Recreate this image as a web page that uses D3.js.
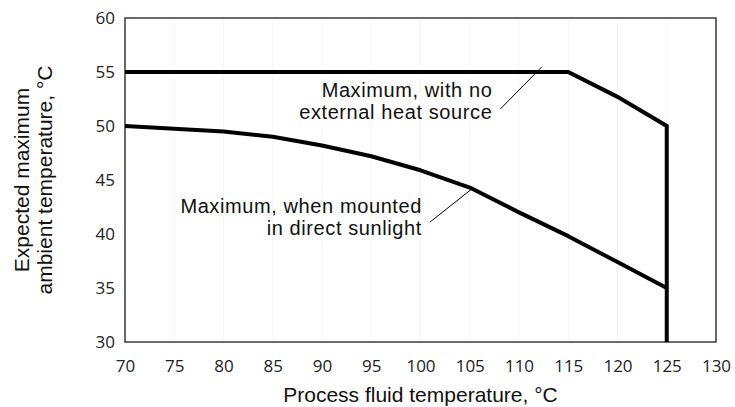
<!DOCTYPE html>
<html>
<head>
<meta charset="utf-8">
<script src="https://cdn.jsdelivr.net/npm/d3@7"></script>
<style>
  body { margin: 0; background: #fff; }
  .tick text { font-family: "Open Sans", sans-serif; font-size: 17px; fill: #222; }
  .label { font-family: "Liberation Sans", Arial, sans-serif; font-size: 21px; fill: #111; }
  .note { font-family: "Liberation Sans", Arial, sans-serif; font-size: 20px; letter-spacing: 0.6px; fill: #111; }
</style>
</head>
<body>
<div id="chart"></div>
<script>
// x positions (process fluid temperature, °C)
const xTicks = [70, 75, 80, 85, 90, 95, 100, 105, 110, 115, 120, 125, 130];
const yTicks = [30, 35, 40, 45, 50, 55, 60];

// maximum with no external heat source
const noHeatX = [70, 115, 120, 125, 125];
const noHeatY = [55, 55, 52.7, 50, 30];

// maximum when mounted in direct sunlight
const sunX = [70, 80, 85, 90, 95, 100, 105, 110, 115, 120, 125];
const sunY = [50, 49.5, 49, 48.2, 47.2, 45.9, 44.3, 42, 39.8, 37.4, 35];

function drawChart(id) {
  const W = 735, H = 407;
  const margin = { top: 18, right: 19, bottom: 65, left: 125 };
  const w = W - margin.left - margin.right;
  const h = H - margin.top - margin.bottom;

  const svg = d3.select(`#${id}`).append("svg")
    .attr("width", W).attr("height", H);

  const g = svg.append("g")
    .attr("transform", `translate(${margin.left},${margin.top})`);

  const x = d3.scaleLinear().domain([70, 130]).range([0, w]);
  const y = d3.scaleLinear().domain([30, 60]).range([h, 0]);

  // very faint grid
  g.append("g").selectAll("line").data(xTicks).join("line")
    .attr("x1", d => x(d)).attr("x2", d => x(d))
    .attr("y1", 0).attr("y2", h)
    .attr("stroke", "#f6f6f6").attr("stroke-width", 1);

  // axes (labels only, frame drawn separately)
  const xAxis = g.append("g")
    .attr("transform", `translate(0,${h})`)
    .call(d3.axisBottom(x).tickValues(xTicks).tickSize(0).tickPadding(18));
  xAxis.select(".domain").remove();

  const yAxis = g.append("g")
    .call(d3.axisLeft(y).tickValues(yTicks).tickSize(0).tickPadding(10));
  yAxis.select(".domain").remove();

  // frame
  g.append("rect")
    .attr("x", 0).attr("y", 0).attr("width", w).attr("height", h)
    .attr("fill", "none").attr("stroke", "#3a3a3a").attr("stroke-width", 1.5);

  const line = d3.line().x(d => x(d[0])).y(d => y(d[1]));

  g.append("path")
    .datum(noHeatX.map((v, i) => [v, noHeatY[i]]))
    .attr("d", line)
    .attr("fill", "none").attr("stroke", "#000").attr("stroke-width", 4)
    .attr("stroke-linejoin", "miter");

  g.append("path")
    .datum(sunX.map((v, i) => [v, sunY[i]]))
    .attr("d", line)
    .attr("fill", "none").attr("stroke", "#000").attr("stroke-width", 4)
    .attr("stroke-linejoin", "round");

  // annotations
  g.append("text").attr("class", "note").attr("text-anchor", "end")
    .attr("x", x(107.3)).attr("y", y(52.69)).text("Maximum, with no");
  g.append("text").attr("class", "note").attr("text-anchor", "end")
    .attr("x", x(107.3)).attr("y", y(50.65)).text("external heat source");
  g.append("line")
    .attr("x1", x(108.1)).attr("y1", y(51.57))
    .attr("x2", x(112.3)).attr("y2", y(55.46))
    .attr("stroke", "#000").attr("stroke-width", 1);

  g.append("text").attr("class", "note").attr("text-anchor", "end")
    .attr("x", x(100.15)).attr("y", y(41.94)).text("Maximum, when mounted");
  g.append("text").attr("class", "note").attr("text-anchor", "end")
    .attr("x", x(100.15)).attr("y", y(39.91)).text("in direct sunlight");
  g.append("line")
    .attr("x1", x(100.96)).attr("y1", y(41.1))
    .attr("x2", x(105.33)).attr("y2", y(44.26))
    .attr("stroke", "#000").attr("stroke-width", 1);

  // axis titles
  svg.append("text").attr("class", "label")
    .attr("x", margin.left + w / 2).attr("y", 402)
    .attr("text-anchor", "middle")
    .text("Process fluid temperature, °C");

  const yt = svg.append("text").attr("class", "label")
    .attr("transform", `translate(0,${margin.top + h / 2}) rotate(-90)`)
    .attr("text-anchor", "middle");
  yt.append("tspan").attr("x", 0).attr("y", 29).text("Expected maximum");
  yt.append("tspan").attr("x", 0).attr("y", 52).text("ambient temperature, °C");
}

document.addEventListener("DOMContentLoaded", function () {
  drawChart("chart");
});
</script>
</body>
</html>
